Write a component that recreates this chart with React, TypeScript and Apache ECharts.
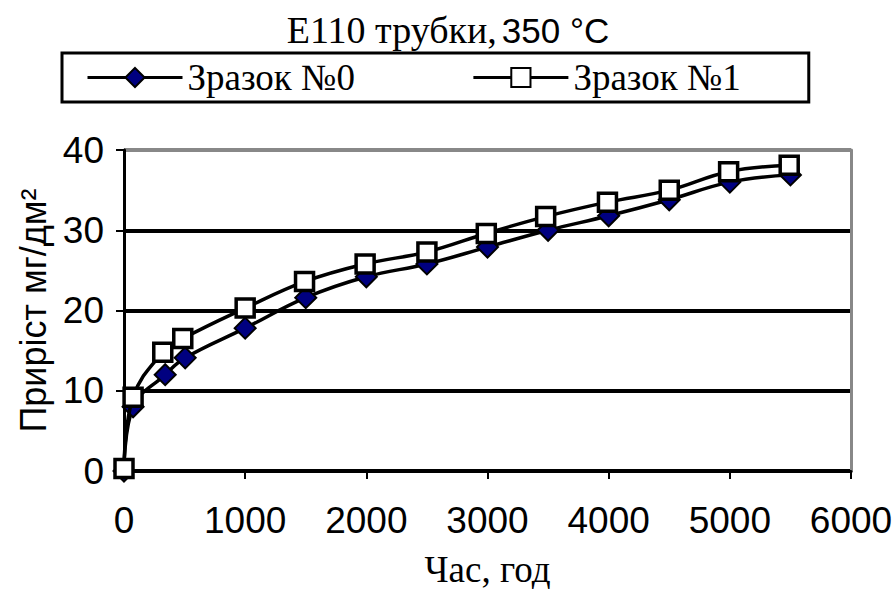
import React, { useEffect, useRef } from "react";
import * as echarts from "echarts";

const hours0 = [0, 75, 340, 505, 1000, 1500, 2000, 2500, 3000, 3500, 4000, 4500, 5000, 5500];
const sample0 = [0, 8.0, 12.0, 14.1, 17.8, 21.6, 24.2, 25.8, 27.9, 30.0, 31.8, 33.8, 36.0, 36.9];
const hours1 = [0, 75, 320, 485, 1000, 1490, 1990, 2500, 2990, 3480, 3990, 4500, 4990, 5490];
const sample1 = [0.3, 9.2, 14.8, 16.5, 20.3, 23.6, 25.8, 27.3, 29.6, 31.7, 33.5, 35.0, 37.3, 38.1];
const seriesNames = ["Зразок №0", "Зразок №1"];

export default function App() {
  const ref = useRef<HTMLDivElement>(null);
  useEffect(() => {
    if (!ref.current) return;
    const chart = echarts.init(ref.current, undefined, { renderer: "svg" });
    const sans = "Liberation Sans, Arial, sans-serif";
    const serif = "Liberation Serif, Times New Roman, serif";
    chart.setOption({
      animation: false,
      backgroundColor: "#fff",
      title: {
        text: "{a|E110 трубки,} {b|350 °C}",
        left: "center",
        top: 6,
        textStyle: {
          rich: {
            a: { fontFamily: serif, fontSize: 38, fontWeight: "normal", color: "#000" },
            b: { fontFamily: sans, fontSize: 35, fontWeight: "normal", color: "#000" },
          },
        },
      },
      legend: {
        data: seriesNames,
        left: 62,
        top: 53,
        itemGap: 117,
        itemWidth: 95,
        itemHeight: 24,
        borderColor: "#000",
        borderWidth: 3,
        borderRadius: 0,
        padding: [6, 68, 6, 24],
        lineStyle: { width: 3 },
        textStyle: { fontFamily: serif, fontSize: 37, color: "#000" },
      },
      grid: {
        left: 124,
        right: 45,
        top: 150,
        bottom: 118,
        containLabel: false,
        outerBoundsMode: "none",
      },
      xAxis: {
        type: "value",
        min: 0,
        max: 6000,
        interval: 1000,
        name: "Час, год",
        nameLocation: "middle",
        nameGap: 80,
        nameTextStyle: { fontFamily: serif, fontSize: 37, color: "#000" },
        axisLine: { lineStyle: { color: "#000", width: 3 } },
        axisTick: { show: true, length: 8, lineStyle: { color: "#000", width: 2 } },
        axisLabel: {
          fontFamily: sans,
          fontSize: 37,
          color: "#000",
          margin: 31,
          formatter: (v: number) => String(v),
        },
        splitLine: { show: false },
      },
      yAxis: [
        {
          type: "value",
          min: 0,
          max: 40,
          interval: 10,
          name: "Приріст мг/дм²",
          nameLocation: "middle",
          nameGap: 71,
          nameTextStyle: { fontFamily: sans, fontSize: 36, color: "#000" },
          axisLine: { show: true, lineStyle: { color: "#000", width: 3 } },
          axisTick: { show: true, length: 8, lineStyle: { color: "#000", width: 2 } },
          axisLabel: {
            fontFamily: sans,
            fontSize: 37,
            color: "#000",
            margin: 20,
            formatter: (v: number) => String(v),
          },
          splitLine: {
            show: true,
            lineStyle: { color: ["#000", "#000", "#000", "#000", "#888"], width: 4 },
          },
        },
        {
          type: "value",
          position: "right",
          min: 0,
          max: 40,
          interval: 10,
          axisLine: { show: true, lineStyle: { color: "#888", width: 3 } },
          axisTick: { show: false },
          axisLabel: { show: false },
          splitLine: { show: false },
        },
      ],
      series: [
        {
          name: seriesNames[0],
          type: "line",
          smooth: 0.4,
          data: hours0.map((h, i) => [h, sample0[i]]),
          symbol: "diamond",
          symbolSize: 21,
          lineStyle: { color: "#000", width: 3.5 },
          itemStyle: { color: "#000080", borderColor: "#000", borderWidth: 2 },
          z: 2,
        },
        {
          name: seriesNames[1],
          type: "line",
          smooth: 0.4,
          data: hours1.map((h, i) => [h, sample1[i]]),
          symbol: "rect",
          symbolSize: 18,
          lineStyle: { color: "#000", width: 3.5 },
          itemStyle: { color: "#fff", borderColor: "#000", borderWidth: 3.5 },
          z: 3,
        },
      ],
    });
    return () => chart.dispose();
  }, []);
  return (
    <div style={{ position: "absolute", left: 0, top: 0, width: 896, height: 589 }}>
      <div ref={ref} style={{ width: 896, height: 589 }} />
    </div>
  );
}
